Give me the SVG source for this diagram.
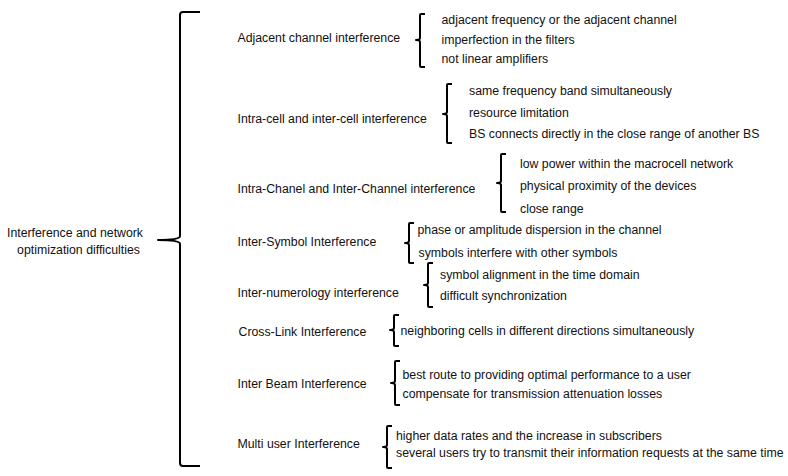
<svg xmlns="http://www.w3.org/2000/svg" width="788" height="476" viewBox="0 0 788 476">
<style>
text{font-family:"Liberation Sans",Arial,sans-serif;font-size:12.3px;fill:#111}
.b{fill:none;stroke:#000;stroke-width:2;stroke-linejoin:round}
</style>
<rect width="788" height="476" fill="#fff"/>
<g id="root">
<text x="75" y="237" text-anchor="middle">Interference and network</text>
<text x="78.5" y="253.5" text-anchor="middle">optimization difficulties</text>
</g>
<g id="connectors">
<path class="b" d="M200,12 L183,12 Q180,12 180,15 L180,236 Q180,240 158,240 Q180,240 180,244 L180,463 Q180,466 183,466 L200,466"/>
<path class="b" d="M425,14 L421,14 Q420,14 420,15 L420,38 Q420,40 416,40 Q420,40 420,42 L420,66 Q420,67 421,67 L425,67"/>
<path class="b" d="M452,84 L448,84 Q447,84 447,85 L447,112 Q447,114 443,114 Q447,114 447,116 L447,142 Q447,143 448,143 L452,143"/>
<path class="b" d="M506,154 L502,154 Q501,154 501,155 L501,181 Q501,183 497,183 Q501,183 501,185 L501,211 Q501,212 502,212 L506,212"/>
<path class="b" d="M414,223 L410,223 Q409,223 409,224 L409,241 Q409,243 405,243 Q409,243 409,245 L409,262 Q409,263 410,263 L414,263"/>
<path class="b" d="M433,263 L429,263 Q428,263 428,264 L428,283 Q428,285 424,285 Q428,285 428,287 L428,306 Q428,307 429,307 L433,307"/>
<path class="b" d="M399,315 L395,315 Q394,315 394,316 L394,328 Q394,330 390,330 Q394,330 394,332 L394,345 Q394,346 395,346 L399,346"/>
<path class="b" d="M400,361 L396,361 Q395,361 395,362 L395,381 Q395,383 391,383 Q395,383 395,385 L395,404 Q395,405 396,405 L400,405"/>
<path class="b" d="M392,426 L388,426 Q387,426 387,427 L387,445 Q387,447 383,447 Q387,447 387,449 L387,467 Q387,468 388,468 L392,468"/>
</g>
<g id="n1">
<text x="237.5" y="41.5">Adjacent channel interference</text>
<text x="441.5" y="24">adjacent frequency or the adjacent channel</text>
<text x="441.5" y="44">imperfection in the filters</text>
<text x="441.5" y="63">not linear amplifiers</text>
</g>
<g id="n2">
<text x="237.5" y="123">Intra-cell and inter-cell interference</text>
<text x="469" y="95">same frequency band simultaneously</text>
<text x="469" y="116.5">resource limitation</text>
<text x="469" y="137.5">BS connects directly in the close range of another BS</text>
</g>
<g id="n3">
<text x="237.5" y="192.5">Intra-Chanel and Inter-Channel interference</text>
<text x="520" y="167.5">low power within the macrocell network</text>
<text x="520" y="190">physical proximity of the devices</text>
<text x="520" y="212.5">close range</text>
</g>
<g id="n4">
<text x="237.5" y="245.5">Inter-Symbol Interference</text>
<text x="417.5" y="233.5">phase or amplitude dispersion in the channel</text>
<text x="418.5" y="257">symbols interfere with other symbols</text>
</g>
<g id="n5">
<text x="237.5" y="297">Inter-numerology interference</text>
<text x="440" y="278.5">symbol alignment in the time domain</text>
<text x="440" y="300">difficult synchronization</text>
</g>
<g id="n6">
<text x="238.5" y="336">Cross-Link Interference</text>
<text x="400.5" y="334.5">neighboring cells in different directions simultaneously</text>
</g>
<g id="n7">
<text x="237.5" y="388">Inter Beam Interference</text>
<text x="402.5" y="379">best route to providing optimal performance to a user</text>
<text x="402.5" y="397.5">compensate for transmission attenuation losses</text>
</g>
<g id="n8">
<text x="237.5" y="448">Multi user Interference</text>
<text x="396" y="440">higher data rates and the increase in subscribers</text>
<text x="396" y="457">several users try to transmit their information requests at the same time</text>
</g>
</svg>
